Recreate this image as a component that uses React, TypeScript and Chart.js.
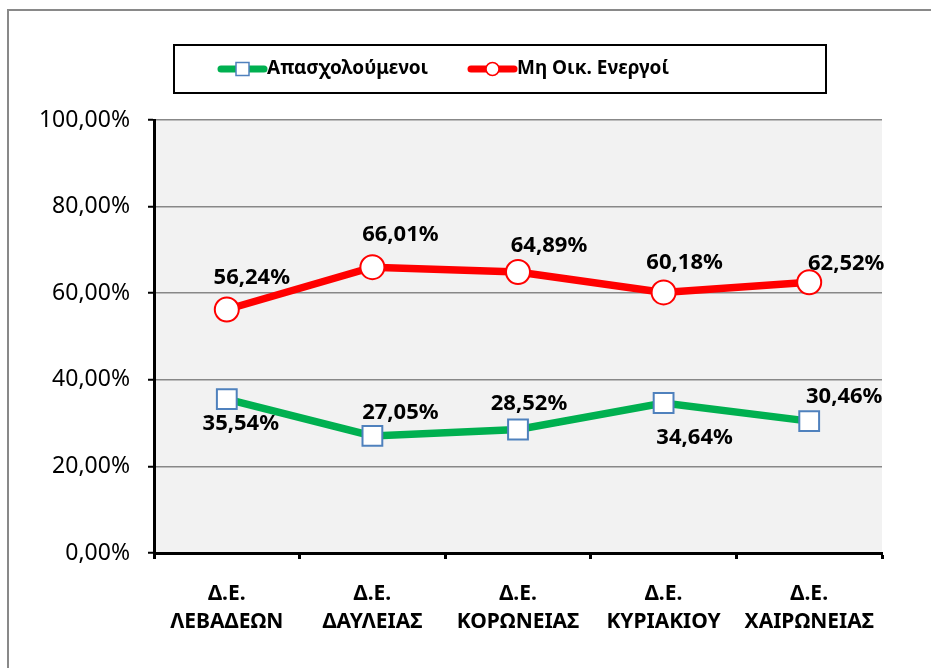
import React, { useEffect, useRef } from "react";
import { Chart, registerables } from "chart.js";

Chart.register(...registerables);

const categories: string[][] = [
  ["Δ.Ε.", "ΛΕΒΑΔΕΩΝ"],
  ["Δ.Ε.", "ΔΑΥΛΕΙΑΣ"],
  ["Δ.Ε.", "ΚΟΡΩΝΕΙΑΣ"],
  ["Δ.Ε.", "ΚΥΡΙΑΚΙΟΥ"],
  ["Δ.Ε.", "ΧΑΙΡΩΝΕΙΑΣ"],
];
const seriesNames = ["Απασχολούμενοι", "Μη Οικ. Ενεργοί"];
const employed = [35.54, 27.05, 28.52, 34.64, 30.46];
const inactive = [56.24, 66.01, 64.89, 60.18, 62.52];
const yTicks = [0, 20, 40, 60, 80, 100];

// label offsets relative to point (style config)
const labelOffsets: [number, number][][] = [
  [[14, 25], [28, -23], [11, -26], [31, 35], [35, -24]],
  [[25, -32], [28, -32], [31, -26], [21, -30], [37, -19]],
];

const FONT = "'Noto Sans', 'DejaVu Sans', sans-serif";

const fmt = (v: number) => v.toFixed(2).replace(".", ",") + "%";

const bgPlugin = {
  id: "bgPlugin",
  beforeDraw(chart: any) {
    const { ctx, chartArea } = chart;
    ctx.save();
    ctx.fillStyle = "#F2F2F2";
    ctx.fillRect(chartArea.left, chartArea.top, chartArea.right - chartArea.left, chartArea.bottom - chartArea.top);
    ctx.restore();
  },
};

const labelPlugin = {
  id: "labelPlugin",
  afterDatasetsDraw(chart: any) {
    const { ctx } = chart;
    ctx.save();
    ctx.font = `bold 22px ${FONT}`;
    ctx.fillStyle = "#000";
    ctx.textAlign = "center";
    ctx.textBaseline = "middle";
    chart.data.datasets.forEach((ds: any, di: number) => {
      const meta = chart.getDatasetMeta(di);
      meta.data.forEach((pt: any, i: number) => {
        const [dx, dy] = labelOffsets[di][i];
        ctx.fillText(fmt(ds.data[i]), pt.x + dx, pt.y + dy);
      });
    });
    ctx.restore();
  },
};

const legendPlugin = {
  id: "customLegend",
  afterDraw(chart: any) {
    const { ctx } = chart;
    ctx.save();
    ctx.strokeStyle = "#000";
    ctx.lineWidth = 2;
    ctx.strokeRect(174, 45, 652, 48);
    const cy = 69;
    const items = [
      { x: 218, ds: chart.data.datasets[0] },
      { x: 468, ds: chart.data.datasets[1] },
    ];
    items.forEach((it) => {
      const ds = it.ds;
      ctx.strokeStyle = ds.borderColor;
      ctx.lineWidth = 7;
      ctx.lineCap = "round";
      ctx.beginPath();
      ctx.moveTo(it.x + 3, cy);
      ctx.lineTo(it.x + 46, cy);
      ctx.stroke();
      ctx.fillStyle = "#fff";
      ctx.strokeStyle = ds.pointBorderColor;
      ctx.lineWidth = 1.5;
      if (ds.pointStyle === "rect") {
        ctx.fillRect(it.x + 18, cy - 6.5, 13, 13);
        ctx.strokeRect(it.x + 18, cy - 6.5, 13, 13);
      } else {
        ctx.beginPath();
        ctx.arc(it.x + 24.5, cy, 6.5, 0, Math.PI * 2);
        ctx.fill();
        ctx.stroke();
      }
      ctx.fillStyle = "#000";
      ctx.font = `bold 19px ${FONT}`;
      ctx.textAlign = "left";
      ctx.textBaseline = "middle";
      ctx.fillText(ds.label, it.x + 49, cy);
    });
    ctx.restore();
  },
};

export default function App() {
  const ref = useRef<HTMLCanvasElement>(null);
  useEffect(() => {
    document.body.style.margin = "0";
    const chart = new Chart(ref.current!, {
      type: "line",
      data: {
        labels: categories,
        datasets: [
          {
            label: seriesNames[0],
            data: employed,
            borderColor: "#00B050",
            borderWidth: 7.5,
            pointStyle: "rect",
            pointRadius: 14,
            pointBackgroundColor: "#FFFFFF",
            pointBorderColor: "#4F81BD",
            pointBorderWidth: 2,
            tension: 0,
          },
          {
            label: seriesNames[1],
            data: inactive,
            borderColor: "#FF0000",
            borderWidth: 7.5,
            pointStyle: "circle",
            pointRadius: 12,
            pointBackgroundColor: "#FFFFFF",
            pointBorderColor: "#FF0000",
            pointBorderWidth: 2,
            tension: 0,
          },
        ],
      },
      options: {
        animation: false,
        responsive: false,
        layout: { padding: { left: 0, right: 49, top: 120, bottom: 0 } },
        plugins: { legend: { display: false }, tooltip: { enabled: false } },
        scales: {
          x: {
            offset: true,
            grid: {
              offset: true,
              drawOnChartArea: false,
              drawTicks: true,
              tickLength: 6,
              tickColor: "#000",
              tickWidth: 3,
            },
            border: { color: "#000", width: 3 },
            ticks: {
              color: "#000",
              font: { family: FONT, size: 21, weight: "bold", lineHeight: "28px" as any },
              padding: 21,
              maxRotation: 0,
              autoSkip: false,
            },
            afterFit(scale: any) {
              scale.height = 115;
            },
          },
          y: {
            min: 0,
            max: 100,
            afterBuildTicks(scale: any) {
              scale.ticks = yTicks.map((v) => ({ value: v }));
            },
            grid: {
              color: "#888888",
              lineWidth: 1.5,
              tickLength: 6,
              tickColor: "#000",
              tickWidth: 2,
            },
            border: { color: "#000", width: 3 },
            ticks: {
              color: "#000",
              font: { family: FONT, size: 23 },
              padding: 18,
              callback: (v: any) => fmt(Number(v)),
            },
            afterFit(scale: any) {
              scale.width = 154;
            },
          },
        },
      },
      plugins: [bgPlugin, labelPlugin, legendPlugin],
    });
    return () => chart.destroy();
  }, []);
  return (
    <div style={{ position: "relative", width: 931, height: 668, overflow: "hidden", background: "#fff" }}>
      <div
        style={{
          position: "absolute",
          left: 7,
          top: 9,
          width: 1000,
          height: 800,
          border: "2px solid #898989",
        }}
      />
      <canvas ref={ref} width={931} height={668} style={{ position: "absolute", left: 0, top: 0 }} />
    </div>
  );
}
